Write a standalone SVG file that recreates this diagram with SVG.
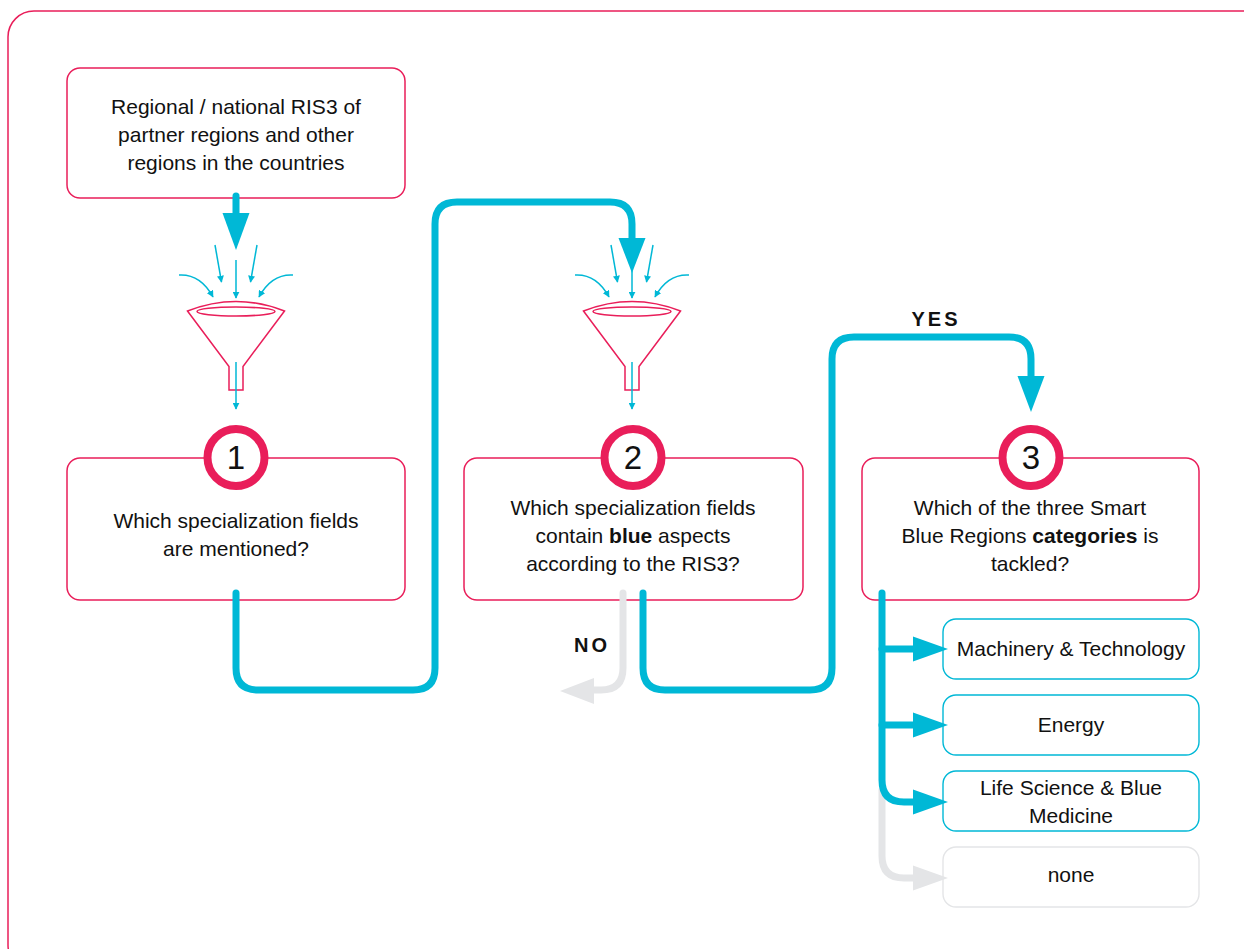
<svg xmlns="http://www.w3.org/2000/svg" width="1244" height="949" viewBox="0 0 1244 949">
<defs>
<style>
.frame{fill:none;stroke:#e91e5a;stroke-width:1.5}
.box{fill:#fff;stroke:#e91e5a;stroke-width:1.5}
.cbox{fill:#fff;stroke:#00b8d6;stroke-width:1.4}
.gbox{fill:#fff;stroke:#e4e5e7;stroke-width:1.4}
.num{fill:#fff;stroke:#e91e5a;stroke-width:8}
.t{font-family:"Liberation Sans",Arial,sans-serif;font-size:21px;fill:#111;text-anchor:middle}
.n{font-family:"Liberation Sans",Arial,sans-serif;font-size:33px;fill:#111;text-anchor:middle}
.lbl{font-family:"Liberation Sans",Arial,sans-serif;font-size:20px;font-weight:bold;fill:#111;text-anchor:middle;letter-spacing:3px}
.c{fill:none;stroke:#00b8d6;stroke-width:7;stroke-linecap:round;stroke-linejoin:round}
.g{fill:none;stroke:#e4e5e7;stroke-width:7;stroke-linecap:round;stroke-linejoin:round}
.ch{fill:#00b8d6}
.gh{fill:#e4e5e7}
.fun{fill:#fff;stroke:#e91e5a;stroke-width:1.5}
.thin{fill:none;stroke:#00b8d6;stroke-width:1.5}
</style>
<marker id="sa" viewBox="0 0 10 10" refX="9" refY="5" markerWidth="7" markerHeight="7" markerUnits="userSpaceOnUse" orient="auto">
<path d="M0,0 L10,5 L0,10 z" fill="#00b8d6"/>
</marker>
<g id="funnel">
<path class="thin" d="M-57,-33 C-40,-34 -30,-24 -23,-11" marker-end="url(#sa)"/>
<path class="thin" d="M57,-33 C40,-34 30,-24 23,-11" marker-end="url(#sa)"/>
<path class="thin" d="M-21,-63 L-14.5,-26" marker-end="url(#sa)"/>
<path class="thin" d="M21,-63 L14.5,-26" marker-end="url(#sa)"/>
<path class="thin" d="M0,-48 L0,-10" marker-end="url(#sa)"/>
<path class="fun" d="M-48.5,3 Q0,-16 48.5,3 L7,58.5 V82 H-7 V58.5 Z"/>
<ellipse class="fun" cx="0" cy="3.5" rx="39" ry="4.5"/>
<path class="thin" d="M0,54 V101" marker-end="url(#sa)"/>
</g>
</defs>
<rect width="1244" height="949" fill="#fff"/>
<rect class="frame" x="8" y="11" width="1270" height="960" rx="26"/>

<g id="funnel1"><use href="#funnel" x="236" y="308"/></g>
<g id="funnel2"><use href="#funnel" x="632" y="308"/></g>

<g id="source">
<rect class="box" x="67" y="68" width="338" height="130" rx="13"/>
<text class="t" x="236" y="114">Regional / national RIS3 of</text>
<text class="t" x="236" y="142">partner regions and other</text>
<text class="t" x="236" y="170">regions in the countries</text>
</g>

<g id="step1">
<rect class="box" x="67" y="458" width="338" height="142" rx="13"/>
<circle class="num" cx="236" cy="457.5" r="28.5"/>
<text class="n" x="236" y="469">1</text>
<text class="t" x="236" y="528">Which specialization fields</text>
<text class="t" x="236" y="556">are mentioned?</text>
</g>

<g id="step2">
<rect class="box" x="464" y="458" width="339" height="142" rx="13"/>
<circle class="num" cx="633" cy="457.5" r="28.5"/>
<text class="n" x="633" y="469">2</text>
<text class="t" x="633" y="515">Which specialization fields</text>
<text class="t" x="633" y="543">contain <tspan font-weight="bold">blue</tspan> aspects</text>
<text class="t" x="633" y="571">according to the RIS3?</text>
</g>

<g id="step3">
<rect class="box" x="862" y="458" width="337" height="142" rx="13"/>
<circle class="num" cx="1031" cy="457.5" r="28.5"/>
<text class="n" x="1031" y="469">3</text>
<text class="t" x="1030" y="515">Which of the three Smart</text>
<text class="t" x="1030" y="543">Blue Regions <tspan font-weight="bold">categories</tspan> is</text>
<text class="t" x="1030" y="571">tackled?</text>
</g>

<g id="cat-machinery">
<rect class="cbox" x="943" y="619" width="256" height="60" rx="13"/>
<text class="t" x="1071" y="656">Machinery &amp; Technology</text>
</g>
<g id="cat-energy">
<rect class="cbox" x="943" y="695" width="256" height="60" rx="13"/>
<text class="t" x="1071" y="732">Energy</text>
</g>
<g id="cat-life">
<rect class="cbox" x="943" y="771" width="256" height="60" rx="13"/>
<text class="t" x="1071" y="795">Life Science &amp; Blue</text>
<text class="t" x="1071" y="823">Medicine</text>
</g>
<g id="cat-none">
<rect class="gbox" x="943" y="847" width="256" height="60" rx="13"/>
<text class="t" x="1071" y="882">none</text>
</g>

<g id="connectors">
<path class="c" d="M236,196 V214"/>
<polygon class="ch" points="222.5,213 249.5,213 236,250"/>
<path class="c" d="M236,593 V668 Q236,690 258,690 H413 Q435,690 435,668 V224 Q435,202 457,202 H610 Q632,202 632,224 V240"/>
<polygon class="ch" points="618.5,238 645.5,238 632,273"/>
<path class="g" d="M623,593 V668 Q623,690 601,690 H592"/>
<polygon class="gh" points="594,678 594,704 560,691"/>
<path class="c" d="M643,593 V668 Q643,690 665,690 H810 Q832,690 832,668 V359 Q832,337 854,337 H1009 Q1031,337 1031,359 V378"/>
<polygon class="ch" points="1017.5,376 1044.5,376 1031,412"/>
<path class="g" d="M882,790 V856 Q882,878 904,878 H915"/>
<polygon class="gh" points="913,865.5 913,890.5 948,878"/>
<path class="c" d="M882,593 V780 Q882,802 904,802 H915"/>
<path class="c" d="M882,649 H915"/>
<path class="c" d="M882,725 H915"/>
<polygon class="ch" points="913,636.5 913,661.5 948,649"/>
<polygon class="ch" points="913,712.5 913,737.5 948,725"/>
<polygon class="ch" points="913,789.5 913,814.5 948,802"/>
<text class="lbl" x="936" y="326">YES</text>
<text class="lbl" x="592" y="652">NO</text>
</g>
</svg>
